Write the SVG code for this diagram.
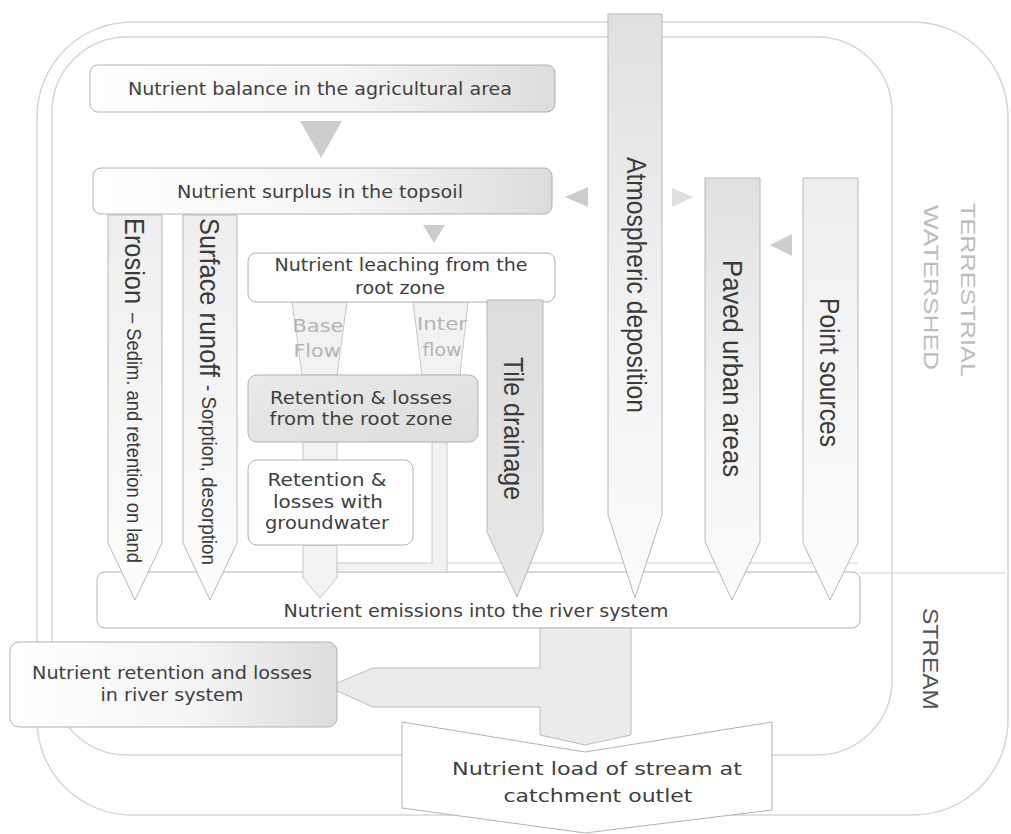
<svg xmlns="http://www.w3.org/2000/svg" width="1011" height="834" viewBox="0 0 1011 834">
<defs>
<linearGradient id="gBoxH" x1="0" y1="0" x2="1" y2="0"><stop offset="0" stop-color="#ffffff"/><stop offset="0.55" stop-color="#f5f5f5"/><stop offset="1" stop-color="#dcdcdc"/></linearGradient>
<linearGradient id="gCol" x1="0" y1="0" x2="0" y2="1"><stop offset="0" stop-color="#e0e0e0"/><stop offset="0.6" stop-color="#f4f4f4"/><stop offset="1" stop-color="#fbfbfb"/></linearGradient>
<linearGradient id="gColW" x1="0" y1="0" x2="0" y2="1"><stop offset="0" stop-color="#eeeeee"/><stop offset="1" stop-color="#fdfdfd"/></linearGradient>
<linearGradient id="gTile" x1="0" y1="0" x2="0" y2="1"><stop offset="0" stop-color="#dcdcdc"/><stop offset="1" stop-color="#e8e8e8"/></linearGradient>
<linearGradient id="gGrey" x1="0" y1="0" x2="1" y2="1"><stop offset="0" stop-color="#eaeaea"/><stop offset="1" stop-color="#dddddd"/></linearGradient>
<style>
.frame{fill:none;stroke:#d6d6d6;stroke-width:1.5}
.box{stroke:#b2b2b2;stroke-width:1}
.col{stroke:#b8b8b8;stroke-width:1}
.tri{fill:#cdcdcd;stroke:none}
.tril{fill:#e0e0e0;stroke:none}
.band{fill:#f2f2f2;stroke:#c8c8c8;stroke-width:1}
.sep{stroke:#d2d2d2;stroke-width:1;fill:none}
.t{font-family:"DejaVu Sans","Liberation Sans",sans-serif;font-size:18px;fill:#404040;text-anchor:middle;dominant-baseline:central}
.v{font-family:"Liberation Sans",Arial,sans-serif;fill:#3a3a3a;dominant-baseline:central}
.flow{font-family:"DejaVu Sans","Liberation Sans",sans-serif;font-size:18px;fill:#b4b4b4;text-anchor:middle;dominant-baseline:central}
</style>
</defs>
<rect width="1011" height="834" fill="#ffffff"/>

<g id="frames">
<rect class="frame" x="37" y="22" width="971" height="793" rx="95"/>
<rect class="frame" x="52" y="37" width="840" height="718" rx="75"/>
<line class="sep" x1="860" y1="573" x2="1006" y2="573"/>
<text class="v" transform="translate(968,203) rotate(90)" font-size="20" style="fill:#bdbdbd" textLength="174" lengthAdjust="spacingAndGlyphs">TERRESTRIAL</text>
<text class="v" transform="translate(931,205) rotate(90)" font-size="20" style="fill:#bdbdbd" textLength="165" lengthAdjust="spacingAndGlyphs">WATERSHED</text>
<text class="v" transform="translate(930,608) rotate(90)" font-size="22" style="fill:#555" textLength="102" lengthAdjust="spacingAndGlyphs">STREAM</text>
</g>

<g id="n-emissions">
<rect class="box" x="97" y="572" width="763" height="56" rx="8" fill="#ffffff"/>
<text class="t" x="476" y="610" textLength="385" lengthAdjust="spacingAndGlyphs">Nutrient emissions into the river system</text>
</g>

<g id="n-load">
<polygon class="box" points="402,722 585,752 772,722 772,810 585,833 402,808" fill="#ffffff"/>
<text class="t" x="597" y="768" textLength="290" lengthAdjust="spacingAndGlyphs">Nutrient load of stream at</text>
<text class="t" x="598" y="795" textLength="189" lengthAdjust="spacingAndGlyphs">catchment outlet</text>
</g>

<g id="connectors">
<polygon class="tri" points="300,121 342,121 321,158"/>
<polygon class="tri" points="423,225 445,225 434,243"/>
<polygon class="tri" points="565,197 588,187 588,207"/>
<polygon class="tril" points="672,188 672,207 693,197"/>
<polygon class="tri" points="770,245 792,234 792,256"/>
<polygon class="band" points="292,302 347,302 337,375 302,375"/>
<polygon class="band" points="413,302 468,302 460,375 422,375"/>
<text class="flow" x="318" y="325" textLength="51" lengthAdjust="spacingAndGlyphs">Base</text>
<text class="flow" x="317" y="350" textLength="47" lengthAdjust="spacingAndGlyphs">Flow</text>
<text class="flow" x="442" y="323" textLength="50" lengthAdjust="spacingAndGlyphs">Inter</text>
<text class="flow" x="442" y="349" textLength="39" lengthAdjust="spacingAndGlyphs">flow</text>
<rect class="band" x="303" y="442" width="34" height="18"/>
<polygon class="band" points="303,545 337,545 337,578 320,598 303,578"/>
<polygon class="band" points="432,442 447,442 447,572 337,572 337,563 432,563"/>
<line class="sep" x1="447" y1="563" x2="858" y2="563"/>
<polygon points="540,628 631,628 631,735 585,745 540,735 540,707 373,707 328,687 373,668 540,668" fill="#ebebeb" stroke="#bcbcbc" stroke-width="1"/>
</g>

<g id="n-balance">
<rect class="box" x="90" y="65" width="465" height="47" rx="8" fill="url(#gBoxH)"/>
<text class="t" x="320" y="88" textLength="384" lengthAdjust="spacingAndGlyphs">Nutrient balance in the agricultural area</text>
</g>

<g id="n-surplus">
<rect class="box" x="93" y="168" width="459" height="46" rx="8" fill="url(#gBoxH)"/>
<text class="t" x="320" y="191" textLength="286" lengthAdjust="spacingAndGlyphs">Nutrient surplus in the topsoil</text>
</g>

<g id="n-leaching">
<rect class="box" x="248" y="253" width="307" height="49" rx="8" fill="#ffffff"/>
<text class="t" x="401" y="264" textLength="253" lengthAdjust="spacingAndGlyphs">Nutrient leaching from the</text>
<text class="t" x="400" y="287" textLength="90" lengthAdjust="spacingAndGlyphs">root zone</text>
</g>

<g id="n-rootzone-retention">
<rect class="box" x="248" y="375" width="230" height="67" rx="9" fill="url(#gGrey)"/>
<text class="t" x="361" y="397" textLength="182" lengthAdjust="spacingAndGlyphs">Retention &amp; losses</text>
<text class="t" x="361" y="418" textLength="183" lengthAdjust="spacingAndGlyphs">from the root zone</text>
</g>

<g id="n-groundwater">
<rect class="box" x="248" y="460" width="165" height="85" rx="9" fill="#ffffff"/>
<text class="t" x="327" y="479" textLength="119" lengthAdjust="spacingAndGlyphs">Retention &amp;</text>
<text class="t" x="328" y="501" textLength="110" lengthAdjust="spacingAndGlyphs">losses with</text>
<text class="t" x="327" y="522" textLength="124" lengthAdjust="spacingAndGlyphs">groundwater</text>
</g>

<g id="n-river-retention">
<rect class="box" x="10" y="642" width="327" height="85" rx="9" fill="url(#gBoxH)"/>
<text class="t" x="172" y="672" textLength="280" lengthAdjust="spacingAndGlyphs">Nutrient retention and losses</text>
<text class="t" x="172" y="694" textLength="143" lengthAdjust="spacingAndGlyphs">in river system</text>
</g>

<g id="c-erosion">
<polygon class="col" points="108,215 162,215 162,543 135,600 108,543" fill="url(#gColW)"/>
<text class="v" transform="translate(134,218) rotate(90)" font-size="28" textLength="86" lengthAdjust="spacingAndGlyphs">Erosion</text>
<text class="v" transform="translate(134,313) rotate(90)" font-size="21" textLength="250" lengthAdjust="spacingAndGlyphs">– Sedim. and retention on land</text>
</g>

<g id="c-surface">
<polygon class="col" points="183,215 237,215 237,543 210,600 183,543" fill="url(#gColW)"/>
<text class="v" transform="translate(209,218) rotate(90)" font-size="28" textLength="159" lengthAdjust="spacingAndGlyphs">Surface runoff</text>
<text class="v" transform="translate(209,385) rotate(90)" font-size="21" textLength="180" lengthAdjust="spacingAndGlyphs">- Sorption, desorption</text>
</g>

<g id="c-tile">
<polygon class="col" points="487,300 543,300 543,532 517,597 487,532" fill="url(#gTile)"/>
<text class="v" transform="translate(513,357) rotate(90)" font-size="28" textLength="143" lengthAdjust="spacingAndGlyphs">Tile drainage</text>
</g>

<g id="c-atmospheric">
<polygon class="col" points="608,14 662,14 662,515 635,598 608,515" fill="url(#gCol)"/>
<text class="v" transform="translate(636,157) rotate(90)" font-size="28" textLength="256" lengthAdjust="spacingAndGlyphs">Atmospheric deposition</text>
</g>

<g id="c-paved">
<polygon class="col" points="705,178 760,178 760,542 732,600 705,542" fill="url(#gCol)"/>
<text class="v" transform="translate(732,260) rotate(90)" font-size="28" textLength="217" lengthAdjust="spacingAndGlyphs">Paved urban areas</text>
</g>

<g id="c-point">
<polygon class="col" points="803,178 858,178 858,543 830,600 803,543" fill="url(#gColW)"/>
<text class="v" transform="translate(829,298) rotate(90)" font-size="28" textLength="149" lengthAdjust="spacingAndGlyphs">Point sources</text>
</g>
</svg>
